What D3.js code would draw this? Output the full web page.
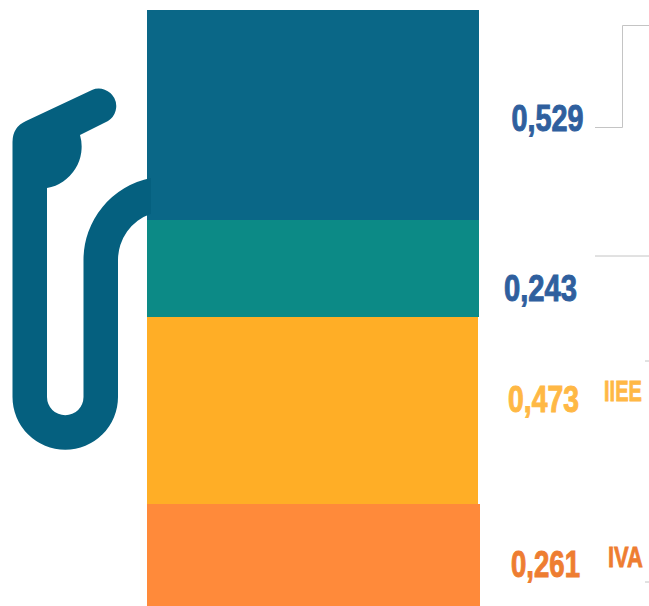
<!DOCTYPE html>
<html>
<head>
<meta charset="utf-8">
<script src="https://cdn.jsdelivr.net/npm/d3@7"></script>
<style>
    html, body { margin: 0; padding: 0; background: #fff; overflow: hidden; }
    text { font-family: "Liberation Sans", sans-serif; font-weight: 700; }
</style>
</head>
<body>
<div id="chart"></div>
<script>
// data, top to bottom of the stack
const categories = ["Margen", "Coste", "IIEE", "IVA"];
const values = [0.529, 0.243, 0.473, 0.261];
const valueLabels = ["0,529", "0,243", "0,473", "0,261"];
const shownNames = ["", "", "IIEE", "IVA"];

// colours and label placement
const barColors = ["#0a6787", "#0c8a86", "#ffae26", "#ff8a3a"];
const textColors = ["#2f5f9e", "#2f5f9e", "#ffb845", "#ee7d31"];
const barRight = [479, 479, 478, 480];
const valueLeft = [511.5, 504, 508, 511];
const valueWidth = [72, 73, 71, 69];
const valueBase = [130.5, 300.5, 411.5, 576.5];
const nameLeft = [0, 0, 604, 608];
const nameWidth = [0, 0, 38, 35];
const nameBase = [0, 0, 401, 567];

const width = 649, height = 606;

const svg = d3.select("#chart").append("svg")
    .attr("width", width)
    .attr("height", height)
    .style("display", "block");

// stacked column
let stack = [];
let running = 0;
values.forEach((v, i) => {
    stack.push({name: categories[i], y0: running, y1: running + v, i: i});
    running += v;
});

const y = d3.scaleLinear().domain([0, d3.sum(values)]).range([10, 608]);

svg.selectAll(".segment")
    .data(stack)
    .join("rect")
    .attr("class", "segment")
    .attr("x", 147)
    .attr("width", d => barRight[d.i] - 147)
    .attr("y", d => Math.round(y(d.y0)))
    .attr("height", d => Math.round(y(d.y1)) - Math.round(y(d.y0)))
    .attr("fill", d => barColors[d.i]);

// fuel nozzle and hose, sits over the top segment
svg.append("path")
    .attr("fill", "#05607f")
    .attr("d", "M12.5,397 V142 Q12.5,127 26,121 L92,90 A17.5,17.5 0 0 1 108,121 L80,135 " +
        "A42,42 0 0 1 47,188 V397 A18.25,18.25 0 0 0 83.5,397 V260 A83.5,83.5 0 0 1 151,178 " +
        "V213.7 A49,49 0 0 0 118,260 V397 A52.75,52.75 0 0 1 12.5,397 Z");

// leader lines on the right
const leaders = [
    "M595,127.5 H622.5 V25.5 H649",
    "M595,256 H649",
    "M645,361 H649",
    "M645,582 H649"
];
svg.selectAll(".leader")
    .data(leaders)
    .join("path")
    .attr("class", "leader")
    .attr("d", d => d)
    .attr("fill", "none")
    .attr("stroke", "#c4c4c4")
    .attr("stroke-width", 1);

// no condensed font installed, so squeeze each text to its measured width
function squeeze(sel, left, base, target) {
    sel.attr("transform", function(d) {
        let sx = target[d.i] / this.getComputedTextLength();
        return `translate(${left[d.i]}, ${base[d.i]}) scale(${sx}, 1)`;
    });
}

// value labels
svg.selectAll(".value")
    .data(stack)
    .join("text")
    .attr("class", "value")
    .attr("font-size", 37)
    .attr("fill", d => textColors[d.i])
    .attr("stroke", d => textColors[d.i])
    .attr("stroke-width", 1)
    .text(d => valueLabels[d.i])
    .call(squeeze, valueLeft, valueBase, valueWidth);

// series names
svg.selectAll(".name")
    .data(stack.filter(d => shownNames[d.i] !== ""))
    .join("text")
    .attr("class", "name")
    .attr("font-size", 30)
    .attr("fill", d => textColors[d.i])
    .attr("stroke", d => textColors[d.i])
    .attr("stroke-width", 0.8)
    .text(d => shownNames[d.i])
    .call(squeeze, nameLeft, nameBase, nameWidth);
</script>
</body>
</html>
